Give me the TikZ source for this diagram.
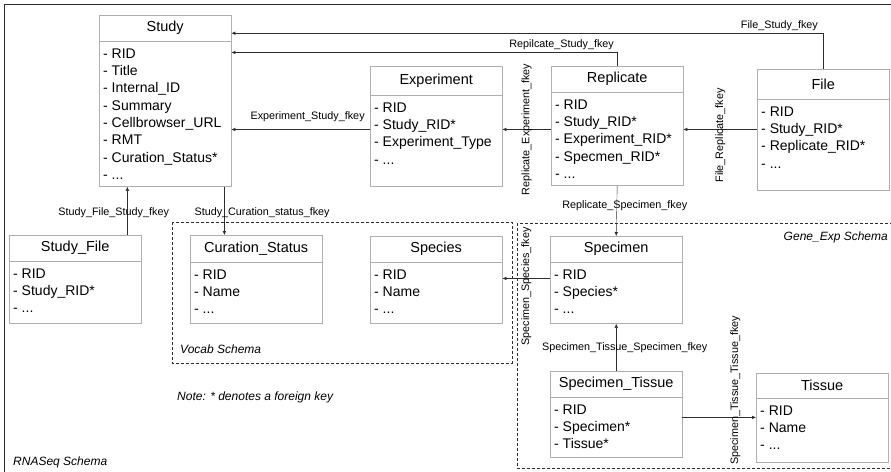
\documentclass[tikz,border=0pt]{standalone}
\usepackage{fontspec}
\setmainfont{Liberation Sans}
\usetikzlibrary{arrows.meta,positioning}

\definecolor{boxgray}{RGB}{175,175,175}
\definecolor{linegray}{RGB}{45,45,45}

\tikzset{
    tabhead/.style={draw=boxgray, anchor=north west, minimum width=132pt, minimum height=26pt, inner sep=0pt, font=\fontsize{14.5}{17}\selectfont},
    tabbody/.style={draw=boxgray, anchor=north west, minimum width=132pt, inner sep=0pt},
    attrs/.style={anchor=north west, align=left, inner xsep=4pt, inner ysep=7pt, font=\fontsize{14}{17.3}\selectfont},
    fk/.style={draw=linegray, -{Latex[length=4pt,width=3.5pt]}},
    fklabel/.style={font=\fontsize{10.8}{12}\selectfont, inner sep=1pt},
    schema/.style={draw=linegray, dash pattern=on 3pt off 2pt},
    schemaname/.style={font=\itshape\fontsize{12}{14}\selectfont, inner sep=0pt}
}

\begin{document}
\begin{tikzpicture}[x=1pt, y=-1pt]
    \clip (0,0) rectangle (891,471);
    \draw[linegray, line width=0.8pt] (4,480) -- (4,4) -- (900,4);

    \node[tabhead] (study) at (99,15) {Study};
    \node[tabbody, minimum height=145pt, label={[attrs]north west:{- RID\\- Title\\- Internal\_ID\\- Summary\\- Cellbrowser\_URL\\- RMT\\- Curation\_Status*\\- ...}}] (study-b) at (study.south west) {};

    \node[tabhead, minimum height=29pt] (experiment) at (370,66) {Experiment};
    \node[tabbody, minimum height=91pt, label={[attrs]north west:{- RID\\- Study\_RID*\\- Experiment\_Type\\- ...}}] (experiment-b) at (experiment.south west) {};

    \node[tabhead] (replicate) at (551,66) {Replicate};
    \node[tabbody, minimum height=93pt, label={[attrs]north west:{- RID\\- Study\_RID*\\- Experiment\_RID*\\- Specmen\_RID*\\- ...}}] (replicate-b) at (replicate.south west) {};

    \node[tabhead, minimum height=30pt] (file) at (757,69) {File};
    \node[tabbody, minimum height=91pt, label={[attrs]north west:{- RID\\- Study\_RID*\\- Replicate\_RID*\\- ...}}] (file-b) at (file.south west) {};

    \node[tabhead] (studyfile) at (9,235) {Study\_File};
    \node[tabbody, minimum height=62pt, label={[attrs]north west:{- RID\\- Study\_RID*\\- ...}}] (studyfile-b) at (studyfile.south west) {};

    \node[tabhead, minimum height=27pt] (curation) at (190,235) {Curation\_Status};
    \node[tabbody, minimum height=61pt, label={[attrs]north west:{- RID\\- Name\\- ...}}] (curation-b) at (curation.south west) {};

    \node[tabhead] (species) at (370,236) {Species};
    \node[tabbody, minimum height=61pt, label={[attrs]north west:{- RID\\- Name\\- ...}}] (species-b) at (species.south west) {};

    \node[tabhead] (specimen) at (550,236) {Specimen};
    \node[tabbody, minimum height=61pt, label={[attrs]north west:{- RID\\- Species*\\- ...}}] (specimen-b) at (specimen.south west) {};

    \node[tabhead] (spectissue) at (550,371) {Specimen\_Tissue};
    \node[tabbody, minimum height=60pt, label={[attrs]north west:{- RID\\- Specimen*\\- Tissue*}}] (spectissue-b) at (spectissue.south west) {};

    \node[tabhead, minimum height=25pt] (tissue) at (756,373) {Tissue};
    \node[tabbody, minimum height=64pt, label={[attrs]north west:{- RID\\- Name\\- ...}}] (tissue-b) at (tissue.south west) {};

    \draw[schema] (172,222) rectangle (512,363);
    \draw[schema] (517,223) rectangle (900,468);
    \node[schemaname, anchor=west] (vocab-name) at (180,349) {Vocab Schema};
    \node[schemaname, anchor=east] (geneexp-name) at (888,237) {Gene\_Exp Schema};
    \node[schemaname, anchor=west] (rnaseq-name) at (13,462) {RNASeq Schema};
    \node[schemaname, anchor=west] (note) at (177,397) {Note: * denotes a foreign key};

    \draw[fk] (file.north) |- ([yshift=-5pt]study.east)
        node[fklabel, pos=0.537, above=1pt] {File\_Study\_fkey};
    \draw[fk] (replicate.north) |- ([yshift=-11pt]study-b.north east)
        node[fklabel, pos=0.572, above=1pt] {Repilcate\_Study\_fkey};
    \draw[fk] ([yshift=-34pt]experiment-b.north west) -- ([yshift=-34pt]experiment-b.north west -| study-b.east)
        node[fklabel, pos=0.45, above=6pt] {Experiment\_Study\_fkey};
    \draw[fk] ([yshift=-37pt]replicate-b.north west) -- ([yshift=-37pt]replicate-b.north west -| experiment-b.east)
        node[fklabel, midway, rotate=90] {Replicate\_Experiment\_fkey};
    \draw[fk] ([yshift=-30pt]file-b.north west) -- ([yshift=-30pt]file-b.north west -| replicate-b.east)
        node[fklabel, midway, yshift=-6pt, rotate=90] {File\_Replicate\_fkey};
    \draw[fk] (replicate-b.south) -- (specimen.north)
        node[fklabel, pos=0.39, xshift=8pt] {Replicate\_Specimen\_fkey};
    \draw[fk] ([yshift=-16pt]specimen-b.north west) -- ([yshift=-16pt]specimen-b.north west -| species-b.east)
        node[fklabel, midway, yshift=-8pt, rotate=90] {Specimen\_Species\_fkey};
    \draw[fk] (spectissue.north) -- (specimen-b.south)
        node[fklabel, midway, xshift=8.5pt] {Specimen\_Tissue\_Specimen\_fkey};
    \draw[fk] ([yshift=-20pt]spectissue-b.north east) -- ([yshift=-20pt]spectissue-b.north east -| tissue-b.west)
        node[fklabel, midway, xshift=16pt, yshift=27pt, rotate=90] {Specimen\_Tissue\_Tissue\_fkey};
    \draw[fk] ([xshift=-14pt]studyfile.north east) -- ([xshift=-14pt]studyfile.north east |- study-b.south)
        node[fklabel, pos=0.47, xshift=-13.7pt] {Study\_File\_Study\_fkey};
    \draw[fk] ([xshift=-7pt]study-b.south east) -- ([xshift=-7pt]study-b.south east |- curation.north)
        node[fklabel, pos=0.53, xshift=37.7pt] {Study\_Curation\_status\_fkey};
\end{tikzpicture}
\end{document}
